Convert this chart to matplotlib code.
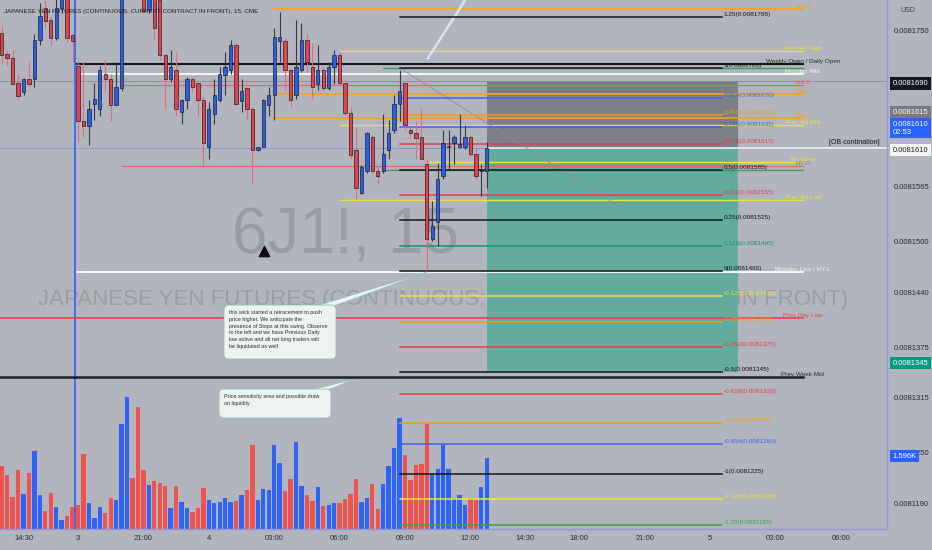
import numpy as np
import matplotlib.pyplot as plt
from matplotlib.patches import Rectangle, Polygon, FancyBboxPatch
from matplotlib.transforms import Affine2D, blended_transform_factory

plt.rcParams['font.family'] = ['Liberation Sans', 'DejaVu Sans']

# 15 min bars, prices in units of 1e-7 (81750 -> 0.0081750)
opens = [81747, 81722, 81717, 81687, 81677, 81692, 81692, 81738, 81776, 81762,
         81741, 81776, 81788, 81744, 81708, 81643, 81637, 81663, 81657, 81698,
         81692, 81662, 81681, 81806, 81840, 81825, 81800, 81774, 81790, 81786,
         81721, 81692, 81703, 81653, 81667, 81692, 81687, 81667, 81612, 81651,
         81667, 81697, 81703, 81732, 81666, 81681, 81657, 81608, 81612, 81662,
         81673, 81737, 81737, 81703, 81673, 81703, 81738, 81706, 81686, 81703,
         81681, 81707, 81721, 81687, 81652, 81608, 81557, 81583, 81623, 81583,
         81583, 81608, 81632, 81663, 81687, 81632, 81628, 81623, 81592, 81503,
         81523, 81578, 81612, 81617, 81612, 81612, 81623, 81603, 81583, 81583]
highs = [81756, 81727, 81726, 81698, 81693, 81712, 81746, 81782, 81785, 81767,
         81790, 81800, 81795, 81747, 81715, 81712, 81667, 81688, 81708, 81715,
         81698, 81712, 81815, 81850, 81848, 81835, 81805, 81800, 81795, 81790,
         81722, 81727, 81724, 81668, 81694, 81694, 81688, 81671, 81665, 81692,
         81706, 81724, 81738, 81735, 81692, 81683, 81659, 81612, 81669, 81683,
         81753, 81772, 81739, 81704, 81762, 81759, 81745, 81735, 81732, 81706,
         81712, 81726, 81724, 81688, 81659, 81636, 81591, 81629, 81626, 81589,
         81651, 81644, 81673, 81703, 81688, 81638, 81642, 81657, 81598, 81548,
         81593, 81632, 81632, 81626, 81651, 81638, 81626, 81609, 81592, 81618]
lows = [81710, 81708, 81686, 81667, 81673, 81683, 81683, 81732, 81753, 81732,
        81738, 81770, 81736, 81712, 81618, 81624, 81614, 81644, 81648, 81677,
        81642, 81662, 81678, 81800, 81815, 81795, 81770, 81770, 81739, 81715,
        81657, 81689, 81650, 81639, 81657, 81677, 81648, 81588, 81598, 81639,
        81665, 81673, 81698, 81662, 81653, 81644, 81568, 81607, 81612, 81648,
        81644, 81712, 81680, 81659, 81669, 81700, 81700, 81669, 81679, 81679,
        81679, 81686, 81685, 81650, 81598, 81550, 81556, 81581, 81581, 81568,
        81581, 81598, 81628, 81642, 81633, 81622, 81598, 81597, 81466, 81501,
        81495, 81574, 81586, 81592, 81610, 81609, 81601, 81573, 81554, 81563]
closes = [81721, 81717, 81686, 81672, 81692, 81686, 81738, 81767, 81761, 81741,
          81776, 81792, 81741, 81737, 81643, 81637, 81657, 81669, 81703, 81692,
          81662, 81683, 81806, 81840, 81825, 81800, 81773, 81790, 81753, 81721,
          81692, 81706, 81657, 81667, 81692, 81683, 81667, 81617, 81657, 81673,
          81698, 81707, 81732, 81663, 81678, 81657, 81608, 81612, 81667, 81673,
          81742, 81742, 81703, 81667, 81706, 81738, 81712, 81683, 81703, 81681,
          81706, 81721, 81687, 81652, 81602, 81563, 81588, 81628, 81583, 81577,
          81603, 81628, 81663, 81678, 81638, 81628, 81622, 81598, 81503, 81518,
          81574, 81617, 81613, 81623, 81615, 81623, 81603, 81578, 81584, 81610]
volumes = [1416, 1220, 730, 1318, 791, 1250, 1762, 753, 414, 813,
           497, 196, 301, 505, 550, 1687, 580, 256, 497, 369,
           693, 663, 2349, 2967, 1152, 2733, 1318, 979, 1069, 1032,
           956, 474, 971, 617, 467, 377, 474, 919, 655, 595,
           610, 693, 617, 640, 753, 873, 1883, 655, 889, 866,
           1883, 1491, 843, 1114, 1950, 964, 761, 640, 934, 520,
           535, 580, 580, 685, 791, 1114, 617, 700, 1001, 459,
           1001, 1408, 1822, 2485, 1672, 1099, 1431, 1461, 2387, 1235,
           1340, 1898, 1340, 708, 753, 535, 700, 678, 949, 1596]

time_idx = [4, 14, 26, 38, 50, 62, 74, 86, 96, 106, 118, 130, 142, 154]
time_lbl = ['14:30', '3', '21:00', '4', '03:00', '06:00', '09:00', '12:00',
            '14:30', '18:00', '21:00', '5', '03:00', '06:00']
price_ticks = [81750, 81565, 81500, 81440, 81375, 81315, 81250, 81190]

fib_levels = ['1.25', '1', '0.854', '0.786', '0.705', '0.618', '0.5', '0.382', '0.25',
              '0.125', '0', '-0.125', '-0.25', '-0.382', '-0.5', '-0.618', '-0.75',
              '-0.854', '-1', '-1.125', '-1.25']
fib_prices = [81765, 81705, 81670, 81650, 81635, 81615, 81585, 81555, 81525, 81495,
              81465, 81435, 81405, 81375, 81345, 81320, 81285, 81260, 81225, 81195, 81165]
fib_colors = ['#151515', '#151515', '#3a66e8', '#f39c12', '#3a66e8', '#e0404a', '#151515',
              '#e0404a', '#151515', '#13917f', '#151515', '#ece63c', '#f39c12', '#e0404a',
              '#151515', '#e0404a', '#f39c12', '#3a66e8', '#151515', '#ece63c', '#43a047']

# key levels drawn as rays
lvl_prices = [81775, 81725, 81710, 81705, 81698, 81685, 81675, 81646, 81638,
              81594, 81589, 81584, 81549, 81464, 81409, 81340]
lvl_start = [50, 62, 13.9, 70, 13.9, 22, 50.5, 50, 62, 78.6, 22, 70, 62, 13.9, -1, -1]
lvl_colors = ['#f5a21b', '#ece63c', '#151515', '#3f9d55', '#f4f4f4', '#e8636d', '#f5a21b',
              '#f5a21b', '#ece63c', '#ece63c', '#e8636d', '#3f9d55', '#ece63c', '#f4f4f4',
              '#e5434d', '#1e1f24']
lvl_widths = [1.2, 1.0, 1.5, 1.0, 1.5, 0.9, 1.2, 1.2, 1.0, 1.0, 0.9, 1.0, 1.0, 1.5, 1.2, 1.8]
lvl_labels = ['Sell-B', 'Prev 4H High', 'Weekly Open / Daily Open', '', 'Monday Mid', 'Sell-2',
              'Sell-C', 'Sell-A', 'Prev 4H Mid', '4H Open', 'NY-O', '', 'Prev 4H Low',
              'Monday Low / NY-L', 'Prev Day Low', 'Prev Week Mid']
lvl_label_colors = ['#f5a21b', '#ece63c', '#2b2b2b', '', '#f4f4f4', '#e8636d', '#f5a21b',
                    '#f5a21b', '#ece63c', '#ece63c', '#7a7c84', '', '#ece63c', '#f4f4f4',
                    '#e5434d', '#2b2b2b']

# short position tool
pos_entry, pos_stop, pos_target = 81610, 81690, 81345
pos_x0, pos_x1 = 89, 135.1

bg = '#b2b5bd'
W, H = 932, 550
fig = plt.figure(figsize=(W / 100, H / 100), dpi=100, facecolor=bg)
ax = fig.add_axes([0, 21 / H, 887 / W, 529 / H])
ax2 = ax.twinx()
ax.set_zorder(2)
ax2.set_zorder(1)
ax.patch.set_visible(False)
ax2.patch.set_visible(False)
pix = Affine2D().scale(1 / W, -1 / H).translate(0, 1) + fig.transFigure

sc = 1e-7
x = np.arange(len(opens))
o, h, l, c = (np.array(a) * sc for a in (opens, highs, lows, closes))
up = c >= o

# volume
ax2.bar(x, volumes, width=0.8, color=np.where(up, '#2d63f7', '#ef5350'), zorder=1)
ax2.set_ylim(0, 11890)
ax2.set_yticks([])
for s in ax2.spines.values():
    s.set_visible(False)

# watermark
ax.text(345, 236, '6J1!, 15', transform=pix, fontsize=46, color='#999ca3',
        ha='center', va='center', zorder=0.5)
ax.text(443, 300, 'JAPANESE YEN FUTURES (CONTINUOUS: CURRENT CONTRACT IN FRONT)',
        transform=pix, fontsize=16, color='#999ca3', ha='center', va='center', zorder=0.5)

# position tool
ax.add_patch(Rectangle((pos_x0, pos_entry * sc), pos_x1 - pos_x0, (pos_stop - pos_entry) * sc,
                       fc='#7c7f86', ec='none', zorder=1))
ax.add_patch(Rectangle((pos_x0, pos_target * sc), pos_x1 - pos_x0, (pos_entry - pos_target) * sc,
                       fc='#62ab9d', ec='none', zorder=1))
ax.plot([pos_x0, 163], [pos_entry * sc] * 2, color='#f7f7f7', lw=1.1, zorder=2)

# full width helper lines
ax.axhline(81690 * sc, color='#8b8e96', lw=0.6, zorder=1.5)
ax.axhline(81610 * sc, color='#7f96d8', lw=0.6, zorder=1.5)
ax.axvline(13.5, color='#2962ff', lw=1.2, zorder=1.5)

# key levels
for p, s0, col, lw, lab, lc in zip(lvl_prices, lvl_start, lvl_colors, lvl_widths,
                                   lvl_labels, lvl_label_colors):
    ax.plot([s0, 147], [p * sc] * 2, color=col, lw=lw, zorder=2)
    if lab:
        ax.text(147, p * sc, lab, color=lc, fontsize=4.6, ha='center', va='bottom', zorder=6)

# fib retracement
for lvl, p, col in zip(fib_levels, fib_prices, fib_colors):
    ax.plot([73.1, 132.2], [p * sc] * 2, color=col, lw=1.1, zorder=2.2)
    ax.text(132.5, p * sc, '%s(%.7f)' % (lvl, p * sc), color=col, fontsize=4.6,
            ha='left', va='bottom', zorder=6)

# trend lines
ax.plot([73.1, 114.4], [81705 * sc, 81537 * sc], color='#8b8e96', lw=0.6, zorder=2)
ax.plot([78.2, 86.5], [81717 * sc, 81800 * sc], color='#f4f8f8', lw=1.6, zorder=2)
ax.plot([78.2, 86.5], [81717 * sc, 81800 * sc], color='#8fd0c6', lw=0.4, zorder=2)

# candles
ax.vlines(x, l, h, colors=np.where(up, '#353a45', '#e46c79'), lw=0.8, zorder=3)
body = np.maximum(np.abs(c - o), 1.3 * sc)
ax.bar(x, body, bottom=np.minimum(o, c), width=0.62,
       color=np.where(up, '#2b5ee8', '#e6404b'), edgecolor='#1e2128', linewidth=0.5, zorder=4)
ax.scatter([48.1], [81489 * sc], marker='^', s=55, color='#0d0d0d', zorder=5)

ax.set_xlim(-0.312, 162.44)
ax.set_ylim(0.00811597, 0.00817857)

ax.yaxis.tick_right()
ax.set_yticks([p * sc for p in price_ticks])
ax.set_yticklabels(['%.7f' % (p * sc) for p in price_ticks])
ax.set_xticks(time_idx)
ax.set_xticklabels(time_lbl)
ax.tick_params(axis='y', length=0, pad=4.5, labelsize=5.5, labelcolor='#2a2a2a')
ax.tick_params(axis='x', length=0, pad=4, labelsize=5.5, labelcolor='#2a2a2a')
for s in ['top', 'left']:
    ax.spines[s].set_visible(False)
for s in ['right', 'bottom']:
    ax.spines[s].set_color('#8e9bd6')
    ax.spines[s].set_linewidth(1.0)

# price scale badges
yt = blended_transform_factory(ax.transAxes, ax.transData)
badges = [(81687, '0.0081690', '#131722', 'white'),
          (81653, '0.0081615', '#787b86', 'white'),
          (81634, '0.0081610\n02:53', '#2962ff', 'white'),
          (81608, '0.0081610', '#f5f5f5', '#222222'),
          (81356, '0.0081345', '#089981', 'white'),
          (81246, '1.596K', '#2962ff', 'white')]
for p, t, fc, tc in badges:
    ax.text(1.006, p * sc, t, transform=yt, fontsize=5.5, color=tc, ha='left', va='center',
            linespacing=1.2, clip_on=False, zorder=7,
            bbox=dict(boxstyle='square,pad=0.35', fc=fc, ec='none'))

fig.text(908, 10, 'USD', transform=pix, fontsize=5, color='#3a3a3a', ha='center', va='center')
fig.text(4, 11, 'JAPANESE YEN FUTURES (CONTINUOUS: CURRENT CONTRACT IN FRONT), 15, CME',
         transform=pix, fontsize=4.5, color='#1c1c1c', ha='left', va='center')
fig.text(829, 142, '[OB contination]', transform=pix, fontsize=5, color='#111111',
         ha='left', va='center')


def callout(box, tail, text):
    x0, y0, x1, y1 = box
    fig.add_artist(Polygon(tail, closed=True, transform=pix, fc='#eef2f1', ec='#8fc3bb',
                           lw=0.6, zorder=5))
    fig.add_artist(FancyBboxPatch((x0, y0), x1 - x0, y1 - y0,
                                  boxstyle='round,pad=0,rounding_size=5', transform=pix,
                                  fc='#eef2f1', ec='#8fc3bb', lw=0.6, zorder=5))
    fig.text(x0 + 5, y0 + 5, text, transform=pix, fontsize=3.9, color='#2d2d2d',
             ha='left', va='top', linespacing=1.45, zorder=6)


callout((224, 305, 336, 359), [(316, 306), (334, 306), (427, 272)],
        'this wick started a retracement to push\nprice higher. We anticipate the\n'
        'presence of Stops at this swing. Observe\nto the left and we have Previous Daily\n'
        'low active and all net long traders will\nbe liquidated as well')
callout((219, 389, 331, 418), [(310, 390), (328, 390), (355, 379)],
        'Price sensitivity area and possible draw\non liquidity')

fig.savefig('out.png', dpi=100, facecolor=bg)
